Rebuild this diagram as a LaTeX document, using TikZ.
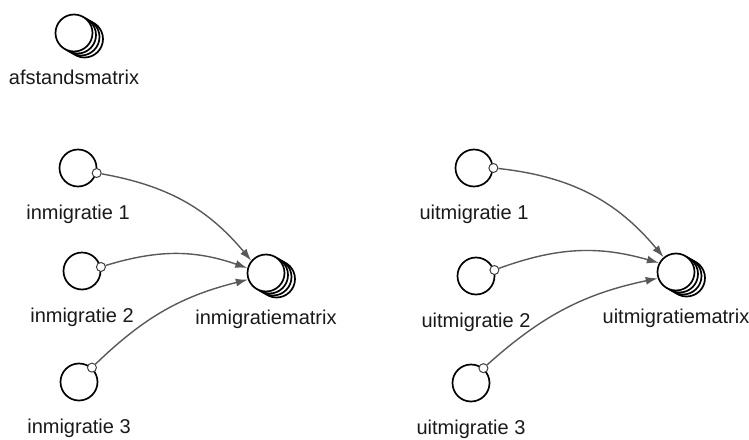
\documentclass[tikz,border=0pt]{standalone}
\usepackage{fontspec}
\setmainfont{Liberation Sans}
\usepackage{tikz}
\usetikzlibrary{arrows.meta,positioning,shadows}

\begin{document}
\begin{tikzpicture}[x=1pt,y=1pt]
\tikzstyle{fleche}=[->,>={Latex[length=12pt,width=8pt]},line width=1.4pt,draw=black!65]
\tikzstyle{conv}=[circle,draw,line width=1.7pt,minimum size=37pt,inner sep=0pt,fill=white]
\tikzstyle{matrice}=[conv,
  copy shadow={shadow xshift=10.5pt,shadow yshift=-6pt,line width=1.7pt},
  copy shadow={shadow xshift=7pt,shadow yshift=-4pt,line width=1.7pt},
  copy shadow={shadow xshift=3.5pt,shadow yshift=-2pt,line width=1.7pt}]
\tikzstyle{prise}=[circle,draw=black!75,line width=1pt,fill=white,minimum size=9pt,inner sep=0pt]
\tikzstyle{etiquette}=[inner sep=0pt,text=black!90,font=\fontsize{20}{24}\selectfont]
\def\Ecart{17pt}
\def\ColIn{79}
\def\ColUit{474}
\useasboundingbox (0,0) rectangle (749,-439);
% matrices
\node[matrice] (afst) at (74,-33) {};
\node[etiquette,below=\Ecart of afst] (afstt) {afstandsmatrix};
\node[matrice] (inM) at (266,-273) {};
\node[etiquette,below=\Ecart of inM] (inMt) {inmigratiematrix};
\node[matrice] (uitM) at (676,-272) {};
\node[etiquette,below=\Ecart of uitM] (uitMt) {uitmigratiematrix};
% inmigratie
\node[conv] (in1) at (\ColIn-1,-168) {};
\node[etiquette,below=\Ecart of in1] (in1t) {inmigratie 1};
\node[conv] (in2) at (\ColIn+3,-271) {};
\node[etiquette,below=\Ecart of in2] (in2t) {inmigratie 2};
\node[conv] (in3) at (\ColIn,-382) {};
\node[etiquette,below=\Ecart of in3] (in3t) {inmigratie 3};
% uitmigratie
\node[conv] (uit1) at (\ColUit,-168) {};
\node[etiquette,below=\Ecart of uit1] (uit1t) {uitmigratie 1};
\node[conv] (uit2) at (\ColUit+2,-276) {};
\node[etiquette,below=\Ecart of uit2] (uit2t) {uitmigratie 2};
\node[conv] (uit3) at (\ColUit-3,-383) {};
\node[etiquette,below=\Ecart of uit3] (uit3t) {uitmigratie 3};
% prises
\node[prise] (pin1) at (in1.-15) {};
\node[prise] (pin2) at (in2.12) {};
\node[prise] (pin3) at (in3.48) {};
\node[prise] (puit1) at (uit1.0) {};
\node[prise] (puit2) at (uit2.18) {};
\node[prise] (puit3) at (uit3.50) {};
% verbindingen
\draw[fleche] (pin1) to[bend left=20] (inM.140);
\draw[fleche] (pin2) to[bend left=18] (inM.165);
\draw[fleche] (pin3) to[bend left=15] (inM.200);
\draw[fleche] (puit1) to[bend left=22] (uitM.130);
\draw[fleche] (puit2) to[bend left=18] (uitM.152);
\draw[fleche] (puit3) to[bend left=15] (uitM.199);
\end{tikzpicture}
\end{document}
